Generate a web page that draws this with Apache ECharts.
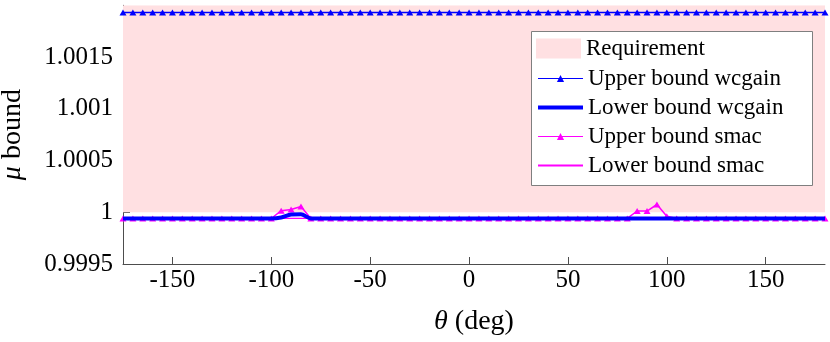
<!DOCTYPE html>
<html>
<head>
<meta charset="utf-8">
<script src="https://cdn.jsdelivr.net/npm/echarts@6/dist/echarts.min.js"></script>
<style>
html,body{margin:0;padding:0;background:#fff;}
#chart{width:830px;height:342px;}
</style>
</head>
<body>
<div id="chart"></div>
<script>
// ---- data ----
const theta = [
  -175,-170,-165,-160,-155,-150,-145,-140,-135,-130,-125,-120,
  -115,-110,-105,-100,-95,-90,-85,-80,-75,-70,-65,-60,
  -55,-50,-45,-40,-35,-30,-25,-20,-15,-10,-5,0,
  5,10,15,20,25,30,35,40,45,50,55,60,
  65,70,75,80,85,90,95,100,105,110,115,120,
  125,130,135,140,145,150,155,160,165,170,175,180
];
const upperWcgain = [
  1.00193,1.00193,1.00193,1.00193,1.00193,1.00193,1.00193,1.00193,1.00193,1.00193,1.00193,1.00193,
  1.00193,1.00193,1.00193,1.00193,1.00193,1.00193,1.00193,1.00193,1.00193,1.00193,1.00193,1.00193,
  1.00193,1.00193,1.00193,1.00193,1.00193,1.00193,1.00193,1.00193,1.00193,1.00193,1.00193,1.00193,
  1.00193,1.00193,1.00193,1.00193,1.00193,1.00193,1.00193,1.00193,1.00193,1.00193,1.00193,1.00193,
  1.00193,1.00193,1.00193,1.00193,1.00193,1.00193,1.00193,1.00193,1.00193,1.00193,1.00193,1.00193,
  1.00193,1.00193,1.00193,1.00193,1.00193,1.00193,1.00193,1.00193,1.00193,1.00193,1.00193,1.00193
];
const lowerWcgain = [
  0.99994,0.99994,0.99994,0.99994,0.99994,0.99994,0.99994,0.99994,0.99994,0.99994,0.99994,0.99994,
  0.99994,0.99994,0.99994,0.99994,0.99995,0.999978,0.99998,0.99994,0.99994,0.99994,0.99994,0.99994,
  0.99994,0.99994,0.99994,0.99994,0.99994,0.99994,0.99994,0.99994,0.99994,0.99994,0.99994,0.99994,
  0.99994,0.99994,0.99994,0.99994,0.99994,0.99994,0.99994,0.99994,0.99994,0.99994,0.99994,0.99994,
  0.99994,0.99994,0.99994,0.99994,0.99994,0.99994,0.99994,0.99994,0.99994,0.99994,0.99994,0.99994,
  0.99994,0.99994,0.99994,0.99994,0.99994,0.99994,0.99994,0.99994,0.99994,0.99994,0.99994,0.99994
];
const upperSmac = [
  0.99994,0.99994,0.99994,0.99994,0.99994,0.99994,0.99994,0.99994,0.99994,0.99994,0.99994,0.99994,
  0.99994,0.99994,0.99994,0.99994,1.000015,1.000027,1.000055,0.99994,0.99994,0.99994,0.99994,0.99994,
  0.99994,0.99994,0.99994,0.99994,0.99994,0.99994,0.99994,0.99994,0.99994,0.99994,0.99994,0.99994,
  0.99994,0.99994,0.99994,0.99994,0.99994,0.99994,0.99994,0.99994,0.99994,0.99994,0.99994,0.99994,
  0.99994,0.99994,0.99994,0.99994,1.000012,1.000012,1.000075,0.999962,0.99994,0.99994,0.99994,0.99994,
  0.99994,0.99994,0.99994,0.99994,0.99994,0.99994,0.99994,0.99994,0.99994,0.99994,0.99994,0.99994
];
const lowerSmac = [
  0.99994,0.99994,0.99994,0.99994,0.99994,0.99994,0.99994,0.99994,0.99994,0.99994,0.99994,0.99994,
  0.99994,0.99994,0.99994,0.99994,0.99994,0.99994,0.99994,0.99994,0.99994,0.99994,0.99994,0.99994,
  0.99994,0.99994,0.99994,0.99994,0.99994,0.99994,0.99994,0.99994,0.99994,0.99994,0.99994,0.99994,
  0.99994,0.99994,0.99994,0.99994,0.99994,0.99994,0.99994,0.99994,0.99994,0.99994,0.99994,0.99994,
  0.99994,0.99994,0.99994,0.99994,0.99994,0.99994,0.99994,0.99994,0.99994,0.99994,0.99994,0.99994,
  0.99994,0.99994,0.99994,0.99994,0.99994,0.99994,0.99994,0.99994,0.99994,0.99994,0.99994,0.99994
];
const requirementTheta = [-175, 180];
const requirementLow = 1;
const requirementHigh = 1.002;
const xTicks = [-150, -100, -50, 0, 50, 100, 150];
const yTicks = [0.9995, 1, 1.0005, 1.001, 1.0015];
const seriesNames = ['Requirement', 'Upper bound wcgain', 'Lower bound wcgain', 'Upper bound smac', 'Lower bound smac'];

// ---- chart ----
const FONT = 'Liberation Serif';
const BLUE = '#0000ff', MAG = '#ff00ff', PINK = '#ffe0e2';
const pair = (xs, ys) => xs.map((x, i) => [x, ys[i]]);
const chart = echarts.init(document.getElementById('chart'), null, {renderer: 'canvas'});
const axisColor = '#4d4d4d';
const noSym = {color: 'rgba(0,0,0,0)', borderWidth: 0};

chart.setOption({
  animation: false,
  backgroundColor: '#fff',
  grid: {left: 123, right: 5, top: 5.3, bottom: 78, containLabel: false, outerBoundsMode: 'none'},
  xAxis: {
    type: 'value', min: -175, max: 180,
    name: '{i|θ} (deg)', nameLocation: 'middle', nameGap: 44,
    nameTextStyle: {fontFamily: FONT, fontSize: 28, color: '#000', rich: {i: {fontStyle: 'italic', fontFamily: FONT, fontSize: 28}}},
    axisLine: {show: true, onZero: false, lineStyle: {color: axisColor, width: 1}},
    axisTick: {show: true, inside: true, length: 7, lineStyle: {color: axisColor}, customValues: xTicks},
    axisLabel: {fontFamily: FONT, fontSize: 25, color: '#000', margin: 4, customValues: xTicks},
    splitLine: {show: false}
  },
  yAxis: {
    type: 'value', min: 0.9995, max: 1.002,
    name: '{i|μ} bound', nameLocation: 'middle', nameGap: 96, nameRotate: 90,
    nameTextStyle: {fontFamily: FONT, fontSize: 28, color: '#000', rich: {i: {fontStyle: 'italic', fontFamily: FONT, fontSize: 28}}},
    axisLine: {show: true, onZero: false, lineStyle: {color: axisColor, width: 1}},
    axisTick: {show: true, inside: true, length: 7, lineStyle: {color: axisColor}, customValues: yTicks},
    axisLabel: {fontFamily: FONT, fontSize: 25, color: '#000', margin: 10, customValues: yTicks,
      formatter: v => String(+(+v).toFixed(4))},
    splitLine: {show: false}
  },
  legend: [
    {
      data: [{name: seriesNames[0], icon: 'rect'}],
      left: 536, top: 37, orient: 'vertical', padding: 0,
      itemWidth: 45, itemHeight: 20, z: 100,
      textStyle: {fontFamily: FONT, fontSize: 23, lineHeight: 23, color: '#000'},
      selectedMode: false
    },
    {
      data: [
        {name: seriesNames[1], itemStyle: {color: BLUE}, lineStyle: {width: 1, color: BLUE}},
        {name: seriesNames[2], itemStyle: noSym, lineStyle: {width: 4, color: BLUE}},
        {name: seriesNames[3], itemStyle: {color: MAG}, lineStyle: {width: 1, color: MAG}},
        {name: seriesNames[4], itemStyle: noSym}
      ],
      left: 536, top: 67, orient: 'vertical', padding: 0, itemGap: 6,
      itemWidth: 45, itemHeight: 9, z: 100,
      textStyle: {fontFamily: FONT, fontSize: 23, lineHeight: 23, color: '#000'},
      selectedMode: false
    }
  ],
  graphic: {
    elements: [{
      type: 'rect', z: 50, silent: true,
      shape: {x: 531.5, y: 31.5, width: 281, height: 154},
      style: {fill: '#fff', stroke: '#7f7f7f', lineWidth: 1}
    }]
  },
  series: [
    {
      name: seriesNames[0], type: 'line', z: 1, silent: true,
      data: pair(requirementTheta, requirementTheta.map(() => requirementHigh)),
      symbol: 'none', lineStyle: {width: 0, color: PINK},
      itemStyle: {color: PINK},
      areaStyle: {color: PINK, opacity: 1, origin: requirementLow}
    },
    {
      name: seriesNames[1], type: 'line', z: 3,
      data: pair(theta, upperWcgain),
      symbol: 'triangle', symbolSize: [7, 6], showAllSymbol: true,
      lineStyle: {color: BLUE, width: 1.5}, itemStyle: {color: BLUE}
    },
    {
      name: seriesNames[3], type: 'line', z: 3,
      data: pair(theta, upperSmac),
      symbol: 'triangle', symbolSize: [7, 6], showAllSymbol: true,
      lineStyle: {color: MAG, width: 1.5}, itemStyle: {color: MAG}
    },
    {
      name: seriesNames[4], type: 'line', z: 3,
      data: pair(theta, lowerSmac),
      symbol: 'none',
      lineStyle: {color: MAG, width: 1.2}, itemStyle: {color: MAG}
    },
    {
      name: seriesNames[2], type: 'line', z: 4,
      data: pair(theta, lowerWcgain),
      symbol: 'none', smooth: 0.3,
      lineStyle: {color: BLUE, width: 4}, itemStyle: {color: BLUE}
    }
  ]
});
</script>
</body>
</html>
